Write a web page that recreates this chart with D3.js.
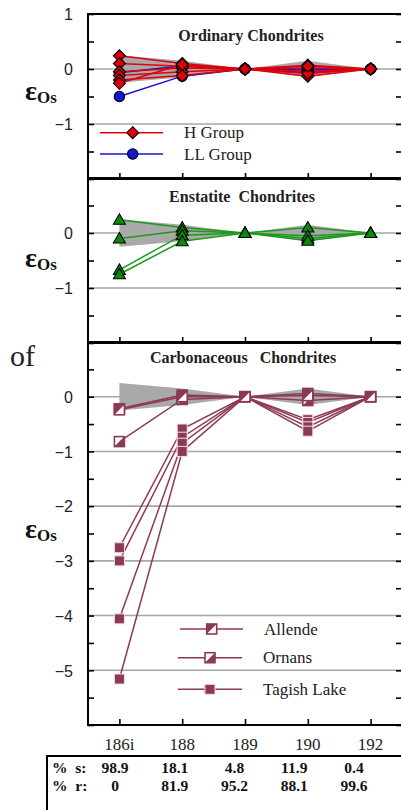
<!DOCTYPE html>
<html>
<head>
<meta charset="utf-8">
<script src="https://cdn.jsdelivr.net/npm/d3@7"></script>
<style>
  body { margin: 0; background: #fff; }
  svg { display: block; font-family: 'Liberation Serif', 'Times New Roman', serif; }
  .ejes text { font-size: 16px; fill: #222; }
  .ejes .domain { display: none; }
</style>
</head>
<body>
<div id="graf"></div>
<script>
// isotopes on the x axis
const isotopes = ['186i', '188', '189', '190', '192']

// grey reference envelope (same in all panels)
const envUpper = [0.25, 0.15, 0, 0.15, 0]
const envLower = [-0.25, -0.15, 0, -0.15, 0]

// Ordinary chondrites
const hGroup = [
  [0.24, 0.10, 0, 0.07, 0],
  [0.10, 0.05, 0, -0.04, 0],
  [-0.05, 0.02, 0, 0.02, 0],
  [-0.12, -0.05, 0, -0.13, 0],
  [-0.20, -0.12, 0, -0.08, 0],
  [-0.26, 0.08, 0, 0.05, 0],
]
const llGroup = [
  [-0.50, -0.13, 0, -0.07, 0],
  [-0.07, 0.06, 0, -0.02, 0],
]

// Enstatite chondrites
const enstatite = [
  [0.24, 0.10, 0, 0.10, 0],
  [-0.10, 0.04, 0, -0.10, 0],
  [-0.67, -0.04, 0, -0.05, 0],
  [-0.75, -0.15, 0, -0.14, 0],
]

// Carbonaceous chondrites
const allende = [
  [-0.22, 0.03, 0, 0.06, 0],
  [-0.24, 0.00, 0, 0.02, 0],
]
const ornans = [
  [-0.82, -0.05, 0, -0.07, 0],
]
const tagishLake = [
  [-2.76, -0.59, 0, -0.42, 0],
  [-3.00, -0.74, 0, -0.47, 0],
  [-4.06, -0.85, 0, -0.55, 0],
  [-5.16, -1.00, 0, -0.63, 0],
]

// s- and r-process percentages
const pctS = ['98.9', '18.1', '4.8', '11.9', '0.4']
const pctR = ['0', '81.9', '95.2', '88.1', '99.6']

const anchoTotal = 401
const altoTotal = 810

const colRed = '#e0000c'
const colBlue = '#1414d2'
const colGreen = '#0a8a0a'
const colGreenLine = '#1c9a1c'
const colMaroon = '#8c3a52'
const colGrid = '#a6a6a6'
const colBand = '#a9a9a9'

const svg = d3.select('#graf')
  .append('svg')
  .attr('width', anchoTotal)
  .attr('height', altoTotal)

const x = d3.scalePoint()
  .domain(isotopes)
  .range([88, 402])
  .padding(0.5)

const panels = [
  { top: 14, bottom: 179, domain: [-2, 1], labels: [1, 0, -1], grid: [0, -1],
    title: 'Ordinary Chondrites', titleX: 251, titleY: 41, epsY: 100 },
  { top: 178, bottom: 343, domain: [-2, 1], labels: [0, -1], grid: [0, -1],
    title: 'Enstatite  Chondrites', titleX: 242, titleY: 202, epsY: 267 },
  { top: 342, bottom: 725, domain: [-6, 1], labels: [0, -1, -2, -3, -4, -5], grid: [0, -1, -2, -3, -4, -5],
    title: 'Carbonaceous   Chondrites', titleX: 243, titleY: 363, epsY: 538 },
]

panels.forEach(p => {
  p.y = d3.scaleLinear().domain(p.domain).range([p.bottom, p.top])
  p.g = svg.append('g')
})

// marker shapes
function diamond(g) {
  g.append('path').attr('d', 'M0,-6L6,0L0,6L-6,0Z')
    .attr('fill', colRed).attr('stroke', '#000').attr('stroke-width', 1.1)
}
function circle(g) {
  g.append('circle').attr('r', 5.2)
    .attr('fill', colBlue).attr('stroke', '#000').attr('stroke-width', 1.1)
}
function triangle(g) {
  g.append('path').attr('d', 'M0,-6L6,4.5L-6,4.5Z')
    .attr('fill', colGreen).attr('stroke', '#000').attr('stroke-width', 1.1)
}
function halfSquare(upperLeft) {
  return g => {
    g.append('rect').attr('x', -5).attr('y', -5).attr('width', 10).attr('height', 10)
      .attr('fill', '#fff').attr('stroke', colMaroon).attr('stroke-width', 1.6)
    g.append('path')
      .attr('d', upperLeft ? 'M-5,-5L5,-5L-5,5Z' : 'M5,-5L5,5L-5,5Z')
      .attr('fill', colMaroon)
  }
}
function fullSquare(g) {
  g.append('rect').attr('x', -5).attr('y', -5).attr('width', 10).attr('height', 10)
    .attr('fill', colMaroon).attr('stroke', '#f3dbe2').attr('stroke-width', 1)
}

// grid, band, frame, ticks and labels
panels.forEach(p => {
  const g = p.g
  const y = p.y

  g.selectAll('line.grid').data(p.grid).enter()
    .append('line').attr('class', 'grid')
    .attr('x1', 88).attr('x2', 402)
    .attr('y1', d => y(d)).attr('y2', d => y(d))
    .attr('stroke', colGrid).attr('stroke-width', 1.6)

  const band = d3.area()
    .x((d, i) => x(isotopes[i]))
    .y0((d, i) => y(envLower[i]))
    .y1(d => y(d))
  g.append('path').datum(envUpper)
    .attr('d', band)
    .attr('fill', colBand)

  // labels on the left
  g.append('g')
    .attr('class', 'ejes')
    .attr('transform', 'translate(88,0)')
    .call(d3.axisLeft(y).tickValues(p.labels).tickSize(0).tickPadding(15).tickFormat(d3.format('d')))
    .selectAll('text').attr('dy', '0.36em')

  // inward ticks
  const minor = d3.range(p.domain[0], p.domain[1] + 0.01, 0.5)
  g.append('g').attr('transform', 'translate(88,0)')
    .call(d3.axisRight(y).tickValues(minor).tickSize(6).tickFormat(''))
    .call(a => a.select('.domain').remove())
    .selectAll('line').attr('stroke', '#000').attr('stroke-width', 1.6)
  g.append('g').attr('transform', 'translate(402,0)')
    .call(d3.axisLeft(y).tickValues(minor).tickSize(6).tickFormat(''))
    .call(a => a.select('.domain').remove())
    .selectAll('line').attr('stroke', '#000').attr('stroke-width', 1.6)
  g.append('g').attr('transform', `translate(0,${p.bottom})`)
    .call(d3.axisTop(x).tickSize(6).tickFormat(''))
    .call(a => a.select('.domain').remove())
    .selectAll('line').attr('stroke', '#000').attr('stroke-width', 1.6)

  g.append('text')
    .attr('x', p.titleX).attr('y', p.titleY)
    .attr('text-anchor', 'middle')
    .attr('font-weight', 'bold')
    .attr('font-size', 16)
    .attr('fill', '#222')
    .style('white-space', 'pre')
    .text(p.title)

  const eps = g.append('text')
    .attr('x', 25).attr('y', p.epsY)
    .attr('font-weight', 'bold')
    .attr('fill', '#111')
  eps.append('tspan').attr('font-size', 28).text('ε')
  eps.append('tspan').attr('font-size', 17).attr('dy', 3).text('Os')
})

// series
function drawSeries(p, rows, lineColor, marker) {
  const line = d3.line()
    .x((d, i) => x(isotopes[i]))
    .y(d => p.y(d))
  const grp = p.g.append('g')
  grp.selectAll('path.serie').data(rows).enter()
    .append('path').attr('class', 'serie')
    .attr('d', line)
    .attr('fill', 'none')
    .attr('stroke', lineColor)
    .attr('stroke-width', 1.5)
  rows.forEach(r => {
    r.forEach((v, i) => {
      const m = grp.append('g').attr('transform', `translate(${x(isotopes[i])},${p.y(v)})`)
      marker(m)
    })
  })
}

drawSeries(panels[0], llGroup, colBlue, circle)
drawSeries(panels[0], hGroup, colRed, diamond)
drawSeries(panels[1], enstatite, colGreenLine, triangle)
drawSeries(panels[2], tagishLake, colMaroon, fullSquare)
drawSeries(panels[2], ornans, colMaroon, halfSquare(false))
drawSeries(panels[2], allende, colMaroon, halfSquare(true))

// frames
panels.forEach(p => {
  p.g.append('rect')
    .attr('x', 88).attr('y', p.top)
    .attr('width', 402 - 88).attr('height', p.bottom - p.top)
    .attr('fill', 'none').attr('stroke', '#000').attr('stroke-width', 2)
})

// legends
function legendRow(g, lx1, lx2, mx, ly, color, marker, label, cap) {
  g.append('line').attr('x1', lx1).attr('x2', lx2).attr('y1', ly).attr('y2', ly)
    .attr('stroke', color).attr('stroke-width', 1.5)
  if (cap) {
    g.append('line').attr('x1', mx - 5).attr('x2', mx - 5).attr('y1', ly - 4).attr('y2', ly + 4)
      .attr('stroke', color).attr('stroke-width', 1)
  }
  marker(g.append('g').attr('transform', `translate(${mx},${ly})`))
  g.append('text').attr('x', lx2 + 21).attr('y', ly + 5.5)
    .attr('font-size', 17).attr('fill', '#222').text(label)
}
legendRow(panels[0].g, 100, 163, 132.7, 132.7, colRed, diamond, 'H Group')
legendRow(panels[0].g, 100, 163, 132.7, 154, colBlue, circle, 'LL Group')
legendRow(panels[2].g, 180, 243, 211.7, 629, colMaroon, halfSquare(true), 'Allende')
legendRow(panels[2].g, 178, 242, 210, 657.7, colMaroon, halfSquare(false), 'Ornans')
legendRow(panels[2].g, 178, 242, 210, 689.3, colMaroon, fullSquare, 'Tagish Lake', true)

// stray "of"
svg.append('text').attr('x', 10).attr('y', 366)
  .attr('font-size', 30).attr('fill', '#222').text('of')

// x labels
svg.append('g').selectAll('text').data(isotopes).enter()
  .append('text')
  .attr('x', d => x(d))
  .attr('y', 750)
  .attr('text-anchor', 'middle')
  .attr('font-size', 17)
  .attr('fill', '#222')
  .text(d => d)

// table
const tx = d3.scalePoint().domain(isotopes).range([115, 354])
svg.append('path')
  .attr('d', 'M47,812V756H403')
  .attr('fill', 'none').attr('stroke', '#000').attr('stroke-width', 2)
const tabla = svg.append('g').attr('font-weight', 'bold').attr('font-size', 15.5).attr('fill', '#111')
tabla.append('text').attr('x', 52).attr('y', 773).style('white-space', 'pre').text('%  s:')
tabla.append('text').attr('x', 52).attr('y', 791).style('white-space', 'pre').text('%  r:')
tabla.selectAll('text.s').data(pctS).enter()
  .append('text').attr('class', 's')
  .attr('x', (d, i) => tx(isotopes[i])).attr('y', 773)
  .attr('text-anchor', 'middle').text(d => d)
tabla.selectAll('text.r').data(pctR).enter()
  .append('text').attr('class', 'r')
  .attr('x', (d, i) => tx(isotopes[i])).attr('y', 791)
  .attr('text-anchor', 'middle').text(d => d)
</script>
</body>
</html>
